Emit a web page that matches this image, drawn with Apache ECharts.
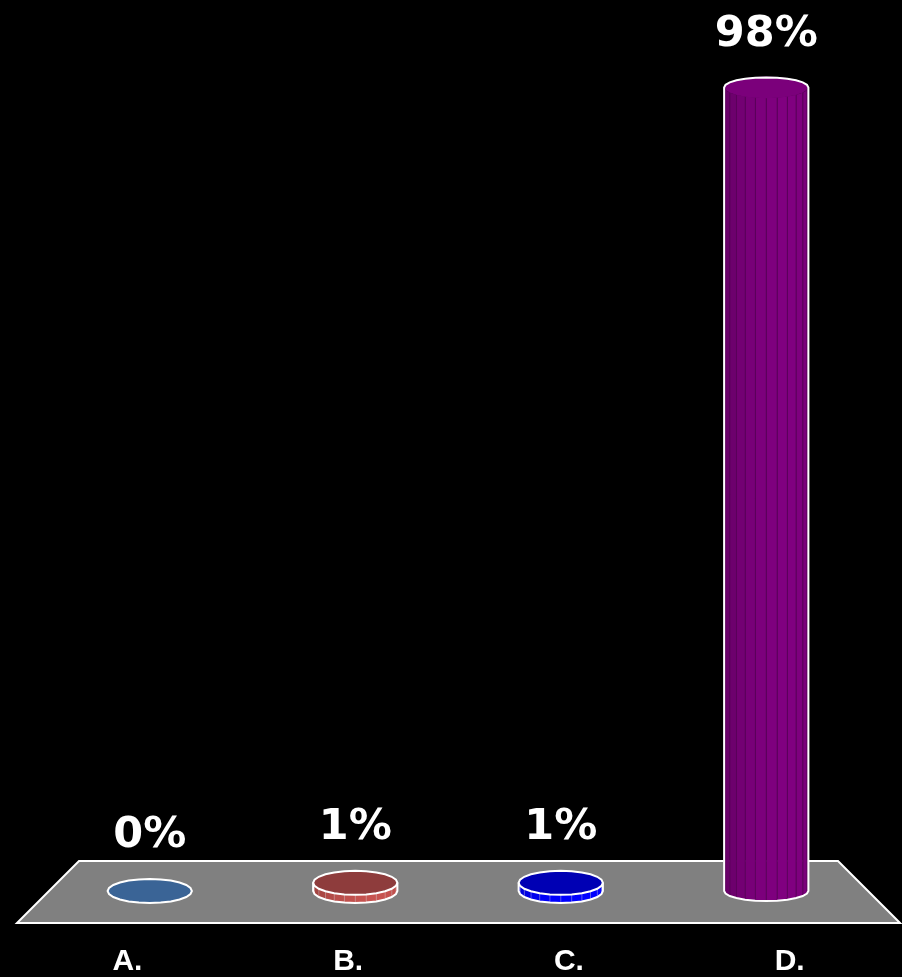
<!DOCTYPE html>
<html>
<head>
<meta charset="utf-8">
<style>
html,body{margin:0;padding:0;background:#000;}
#chart{width:902px;height:977px;}
</style>
<script src="https://cdn.jsdelivr.net/npm/echarts@6/dist/echarts.min.js"></script>
</head>
<body>
<div id="chart"></div>
<script>
const categories = ['A.', 'B.', 'C.', 'D.'];
const values = [0, 1, 1, 98];
const valueLabels = ['0%', '1%', '1%', '98%'];
const topColors = ['#3a6496', '#8e3c3c', '#0000b4', '#7b007b'];
const sideColors = ['#4a76ad', '#c0504d', '#0000ff', '#7b007b'];

const chart = echarts.init(document.getElementById('chart'));

function ellipsePts(cx, cy, rx, ry, a0, a1, n) {
  const pts = [];
  for (let k = 0; k <= n; k++) {
    const t = a0 + (a1 - a0) * k / n;
    pts.push([cx + rx * Math.cos(t), cy + ry * Math.sin(t)]);
  }
  return pts;
}

function shade(hex, f) {
  const r = parseInt(hex.slice(1, 3), 16), g = parseInt(hex.slice(3, 5), 16), b = parseInt(hex.slice(5, 7), 16);
  const c = x => Math.max(0, Math.min(255, Math.round(x * f)));
  return 'rgb(' + c(r) + ',' + c(g) + ',' + c(b) + ')';
}

function renderItem(params, api) {
  const idx = api.value(0);
  const v = api.value(1);
  const base = api.coord([idx, 0]);
  const topP = api.coord([idx, v]);
  const cx = base[0];
  const by = base[1];
  const ty = topP[1];
  const rx = api.size([1, 0])[0] * 0.205;
  const tall = v > 50;
  const ry = tall ? 10 : 12;
  const N = 12;
  const children = [];
  const i = params.dataIndex;
  if (by - ty > 0.5) {
    for (let k = 0; k < N; k++) {
      const t0 = Math.PI * k / N, t1 = Math.PI * (k + 1) / N;
      const x0 = cx + rx * Math.cos(t0), x1 = cx + rx * Math.cos(t1);
      const s0 = ry * Math.sin(t0), s1 = ry * Math.sin(t1);
      const tm = (t0 + t1) / 2;
      const f = 0.86 + 0.18 * Math.max(0, Math.sin(tm + 0.5));
      children.push({
        type: 'polygon',
        shape: { points: [[x0, by + s0], [x1, by + s1], [x1, ty + s1], [x0, ty + s0]] },
        style: { fill: shade(sideColors[i], f), stroke: tall ? shade(sideColors[i], 0.72) : 'rgba(255,255,255,0.25)', lineWidth: 0.8 }
      });
    }
  }
  if (!tall) {
    children.push({
      type: 'polygon',
      shape: { points: ellipsePts(cx, ty, rx, ry, 0, Math.PI * 2, N * 2) },
      style: { fill: topColors[i], stroke: '#ffffff', lineWidth: 2 }
    });
    if (by - ty > 0.5) {
      const outline = [[cx + rx, ty]].concat(ellipsePts(cx, by, rx, ry, 0, Math.PI, N)).concat([[cx - rx, ty]]);
      children.push({
        type: 'polyline',
        shape: { points: outline },
        style: { stroke: '#ffffff', lineWidth: 2, fill: null }
      });
    }
  } else {
    // cap with the body colour, no visible front arc
    children.push({
      type: 'polygon',
      shape: { points: ellipsePts(cx, ty, rx - 0.5, ry + 0.8, 0, Math.PI * 2, N * 2) },
      style: { fill: sideColors[i], stroke: null }
    });
    const outline = ellipsePts(cx, ty, rx, ry, Math.PI, Math.PI * 2, N)
      .concat(ellipsePts(cx, by, rx, ry, 0, Math.PI, N));
    children.push({
      type: 'polygon',
      shape: { points: outline },
      style: { fill: null, stroke: '#ffffff', lineWidth: 2 }
    });
  }
  children.push({
    type: 'text',
    style: {
      text: valueLabels[i],
      x: cx,
      y: ty - ry - 43,
      align: 'center',
      verticalAlign: 'middle',
      fill: '#ffffff',
      font: 'bold 43px "DejaVu Sans"'
    }
  });
  return { type: 'group', children: children };
}

chart.setOption({
  backgroundColor: '#000000',
  animation: false,
  grid: [
    { left: 47, right: 33, top: 71, bottom: 86 },
    { left: 17, right: 2, top: 71, bottom: 86 }
  ],
  xAxis: [{
    type: 'category',
    gridIndex: 0,
    data: categories,
    axisLine: { show: false },
    axisTick: { show: false },
    axisLabel: { show: false }
  }, {
    type: 'category',
    gridIndex: 1,
    data: categories,
    axisLine: { show: false },
    axisTick: { show: false },
    axisLabel: {
      color: '#ffffff',
      fontFamily: '"Liberation Sans", Arial',
      fontWeight: 'bold',
      fontSize: 30,
      margin: 58
    }
  }],
  yAxis: [
    { type: 'value', gridIndex: 0, min: 0, max: 100, show: false },
    { type: 'value', gridIndex: 1, min: 0, max: 100, show: false }
  ],
  graphic: [{
    type: 'polygon',
    z: 0,
    shape: { points: [[79, 861], [838, 861], [900, 923], [17, 923]] },
    style: { fill: '#808080', stroke: '#ffffff', lineWidth: 2 }
  }],
  series: [{
    type: 'custom',
    z: 10,
    xAxisIndex: 0,
    yAxisIndex: 0,
    renderItem: renderItem,
    data: values.map((v, i) => [i, v])
  }]
});
</script>
</body>
</html>
